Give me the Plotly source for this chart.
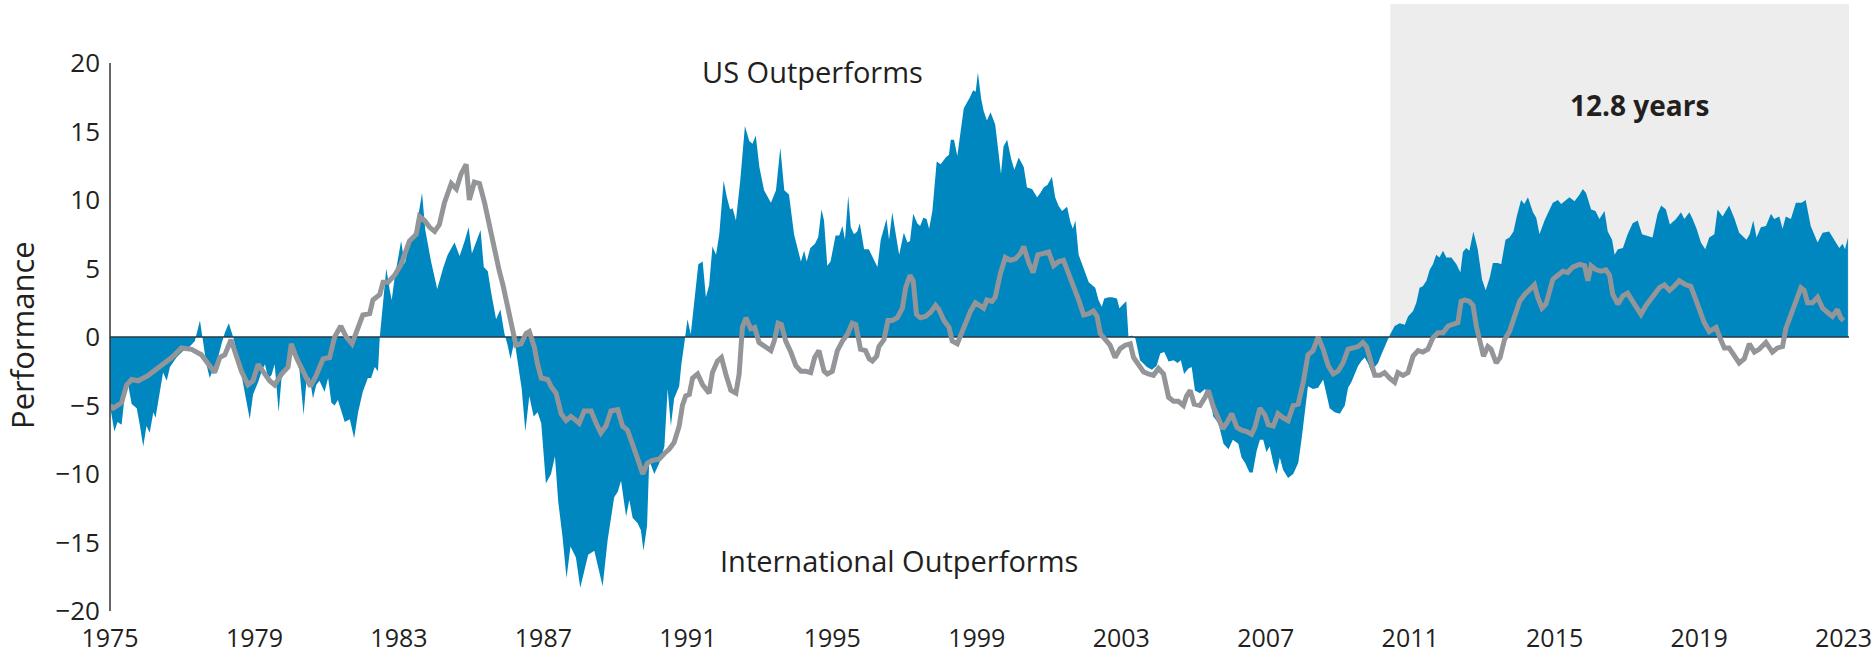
import plotly.graph_objects as go

# ---- data ----
blue_years = [
    1975.0, 1975.12, 1975.21, 1975.32, 1975.4, 1975.49, 1975.6, 1975.74, 1975.83, 1975.92,
    1976.01, 1976.1, 1976.2, 1976.26, 1976.38, 1976.47, 1976.57, 1976.66, 1976.84, 1977.03,
    1977.21, 1977.35, 1977.49, 1977.58, 1977.67, 1977.76, 1977.86, 1977.99, 1978.09, 1978.18,
    1978.29, 1978.41, 1978.55, 1978.69, 1978.78, 1978.87, 1978.96, 1979.1, 1979.2, 1979.29,
    1979.38, 1979.47, 1979.56, 1979.67, 1979.75, 1979.88, 1979.98, 1980.07, 1980.16, 1980.25,
    1980.36, 1980.44, 1980.53, 1980.62, 1980.71, 1980.8, 1980.94, 1981.04, 1981.13, 1981.22,
    1981.31, 1981.41, 1981.5, 1981.64, 1981.76, 1981.87, 1982.0, 1982.14, 1982.23, 1982.33,
    1982.42, 1982.47, 1982.53, 1982.65, 1982.74, 1982.8,
    1982.88, 1983.06, 1983.16, 1983.29, 1983.43, 1983.54, 1983.64, 1983.73, 1983.89, 1984.06,
    1984.22, 1984.35, 1984.54, 1984.68, 1984.82, 1984.93, 1985.02, 1985.14, 1985.26, 1985.35,
    1985.46, 1985.55, 1985.69, 1985.81, 1985.92, 1986.01, 1986.09, 1986.2, 1986.31, 1986.4,
    1986.5, 1986.61, 1986.73, 1986.84, 1986.94, 1987.07, 1987.21, 1987.32, 1987.41, 1987.53,
    1987.64, 1987.75, 1987.9, 1988.02, 1988.13, 1988.24, 1988.41, 1988.52, 1988.64, 1988.78,
    1988.96, 1989.06, 1989.15, 1989.29, 1989.38, 1989.47, 1989.61, 1989.7, 1989.77, 1989.87,
    1989.93, 1990.07, 1990.21, 1990.35, 1990.44, 1990.53, 1990.62, 1990.76, 1990.82,
    1990.9, 1990.99, 1991.08, 1991.18, 1991.29, 1991.41, 1991.5, 1991.59, 1991.68, 1991.78,
    1991.87, 1991.99, 1992.08, 1992.17, 1992.24, 1992.33, 1992.45, 1992.58, 1992.7, 1992.79,
    1992.88, 1992.98, 1993.11, 1993.3, 1993.44, 1993.56, 1993.67, 1993.8, 1993.94, 1994.13,
    1994.22, 1994.29, 1994.39, 1994.52, 1994.61, 1994.7, 1994.77, 1994.86, 1994.95, 1995.09,
    1995.19, 1995.28, 1995.35, 1995.44, 1995.51, 1995.6, 1995.69, 1995.76, 1995.88, 1996.01,
    1996.11, 1996.25, 1996.34, 1996.43, 1996.5, 1996.57, 1996.66, 1996.75, 1996.85, 1996.98,
    1997.08, 1997.15, 1997.24, 1997.35, 1997.43, 1997.52, 1997.61, 1997.68, 1997.77, 1997.89,
    1998.0, 1998.14, 1998.23, 1998.28, 1998.37, 1998.46, 1998.55, 1998.64, 1998.81, 1998.9,
    1998.97, 1999.03,
    1999.12, 1999.19, 1999.28, 1999.38, 1999.51, 1999.61, 1999.67, 1999.74, 1999.84, 1999.95,
    2000.04, 2000.16, 2000.3, 2000.39, 2000.53, 2000.67, 2000.76, 2000.85, 2000.96, 2001.08,
    2001.17, 2001.26, 2001.36, 2001.5, 2001.59, 2001.66, 2001.73, 2001.82, 2001.96, 2002.1,
    2002.28, 2002.37, 2002.46, 2002.53, 2002.65, 2002.74, 2002.88, 2002.95, 2003.06, 2003.14,
    2003.2, 2003.29, 2003.39, 2003.52, 2003.71, 2003.85, 2003.98, 2004.08, 2004.19, 2004.31,
    2004.45, 2004.56, 2004.65, 2004.74, 2004.86, 2004.95, 2005.04, 2005.18, 2005.32, 2005.46,
    2005.55, 2005.69, 2005.83, 2005.97, 2006.09, 2006.24, 2006.33, 2006.43, 2006.55, 2006.64,
    2006.75, 2006.84,
    2006.93, 2007.02, 2007.11, 2007.21, 2007.3, 2007.39, 2007.48, 2007.62, 2007.76, 2007.9,
    2007.99, 2008.08, 2008.17, 2008.31, 2008.45, 2008.59, 2008.68, 2008.77, 2008.91, 2009.05,
    2009.19, 2009.28, 2009.37, 2009.47, 2009.56, 2009.65, 2009.74, 2009.83, 2009.93, 2010.02,
    2010.11, 2010.2, 2010.29, 2010.43, 2010.57, 2010.71, 2010.85, 2010.94, 2011.08, 2011.17,
    2011.26, 2011.35, 2011.45, 2011.54, 2011.63, 2011.72, 2011.81, 2011.91, 2012.0, 2012.14,
    2012.28, 2012.39, 2012.46, 2012.55, 2012.64, 2012.75, 2012.87, 2012.99, 2013.09, 2013.2,
    2013.29, 2013.43, 2013.52, 2013.64, 2013.75, 2013.86, 2013.95, 2014.07, 2014.16, 2014.26,
    2014.4, 2014.49, 2014.58, 2014.72, 2014.86,
    2014.95, 2015.09, 2015.18, 2015.41, 2015.55, 2015.69, 2015.78, 2015.87, 2016.01, 2016.13,
    2016.24, 2016.38, 2016.47, 2016.59, 2016.66, 2016.75, 2016.89, 2017.02, 2017.16, 2017.3,
    2017.42, 2017.53, 2017.71, 2017.85, 2017.95, 2018.08, 2018.19, 2018.36, 2018.5, 2018.59,
    2018.73, 2018.82, 2018.93, 2019.05, 2019.17, 2019.28, 2019.42, 2019.51, 2019.65, 2019.83,
    2019.97, 2020.11, 2020.31, 2020.4, 2020.5, 2020.59, 2020.71, 2020.85, 2020.99, 2021.08,
    2021.22, 2021.31, 2021.4, 2021.54, 2021.68, 2021.84, 2021.95, 2022.09, 2022.28, 2022.42,
    2022.6, 2022.74, 2022.88, 2022.97, 2023.04, 2023.12,
]
blue_values = [
    -5.0, -6.9, -6.2, -6.4, -4.5, -3.3, -4.9, -5.2, -6.5, -8.0,
    -6.5, -7.0, -5.5, -5.9, -4.0, -2.6, -3.2, -2.2, -1.5, -1.0,
    -0.7, -0.3, 1.2, -0.5, -2.0, -3.0, -2.3, -1.5, -0.5, 0.3,
    1.0, 0.0, -1.5, -3.5, -4.6, -6.0, -4.2, -3.3, -2.5, -2.0,
    -3.0, -2.8, -2.0, -5.5, -3.0, -2.5, -0.8, -0.5, -1.5, -2.5,
    -5.7, -3.2, -3.0, -4.5, -3.5, -3.2, -4.0, -3.0, -4.8, -5.0,
    -4.6, -5.5, -6.2, -6.0, -7.4, -5.5, -4.0, -3.0, -3.0, -2.2,
    -2.5, 0.0, 1.5, 5.0, 3.5, 2.7,
    4.3, 7.0, 5.3, 6.9, 7.5, 8.9, 10.5, 7.8, 5.5, 3.5,
    5.0, 6.0, 6.9, 5.9, 7.0, 8.0, 6.1, 7.0, 7.8, 5.1,
    4.8, 3.3, 1.3, 2.0, 0.25, -0.6, -1.6, -0.25, -2.3, -3.8,
    -6.9, -4.3, -5.8, -5.5, -6.3, -10.7, -10.0, -8.7, -12.0, -14.6,
    -17.6, -15.3, -16.1, -18.3, -17.1, -15.9, -15.6, -16.9, -18.2, -14.8,
    -11.7, -11.3, -10.5, -13.1, -11.9, -13.2, -13.6, -14.1, -15.6, -13.8,
    -9.0, -10.0, -9.2, -8.0, -3.8, -6.5, -4.5, -3.6, -2.0,
    -0.5, 1.3, 0.2, 2.6, 5.3, 5.5, 2.9, 3.8, 6.6, 6.0,
    7.5, 11.4, 10.2, 9.3, 9.4, 8.5, 11.4, 15.4, 14.3, 14.1,
    14.7, 12.4, 10.7, 9.8, 10.7, 13.8, 10.7, 10.4, 7.5, 5.5,
    6.3, 5.5, 6.5, 6.8, 7.3, 9.3, 8.5, 5.2, 5.5, 7.4,
    7.4, 8.1, 7.1, 10.3, 8.0, 7.5, 7.7, 8.3, 6.4, 6.4,
    5.9, 5.1, 7.1, 7.9, 8.6, 7.1, 9.1, 7.6, 6.0, 7.6,
    6.9, 7.0, 9.0, 8.3, 8.1, 8.7, 8.6, 7.9, 9.2, 12.8,
    12.6, 13.1, 13.3, 14.4, 14.4, 13.2, 14.8, 16.7, 17.5, 18.0,
    17.9, 19.3,
    17.4, 16.5, 15.8, 16.4, 15.5, 13.4, 11.9, 13.9, 14.4, 13.0,
    12.2, 13.1, 12.4, 10.9, 10.8, 10.2, 10.5, 10.9, 11.1, 11.7,
    10.2, 9.6, 9.2, 9.5, 8.4, 7.9, 8.5, 6.0, 5.0, 4.0,
    3.6, 2.7, 2.2, 2.8, 2.9, 2.9, 2.8, 2.1, 2.4, 2.6,
    0.0, 0.1, -0.1, -1.7, -2.2, -2.4, -2.1, -1.2, -1.1, -1.8,
    -1.7, -1.9, -1.7, -2.7, -2.3, -2.2, -3.9, -4.1, -3.8, -4.6,
    -5.8, -6.3, -7.8, -8.2, -7.5, -7.8, -8.8, -9.2, -9.9, -9.9,
    -8.3, -7.5,
    -7.5, -8.4, -8.0, -9.2, -10.0, -8.8, -9.7, -10.3, -10.0, -9.2,
    -7.5, -5.3, -3.6, -3.8, -3.7, -3.1, -4.1, -5.2, -5.5, -5.6,
    -5.0, -3.7, -3.3, -2.6, -2.1, -1.75, -1.5, -1.9, -2.6, -2.2,
    -1.9, -1.3, -0.7, 0.1, 0.8, 1.0, 0.9, 1.5, 1.9, 2.5,
    3.6, 3.7, 4.1, 4.9, 5.3, 6.0, 5.8, 6.3, 5.8, 5.8,
    5.3, 4.7, 6.2, 6.5, 6.3, 7.7, 6.4, 4.2, 3.4, 4.3,
    5.4, 5.4, 5.3, 7.1, 7.25, 7.7, 8.8, 10.0, 9.7, 10.2,
    9.1, 8.7, 7.5, 8.5, 9.3,
    9.8, 10.0, 9.7, 10.2, 9.9, 10.4, 10.8, 10.5, 9.3, 9.2,
    8.6, 9.2, 7.7, 7.1, 6.0, 6.4, 6.5, 7.5, 8.3, 8.5,
    7.5, 7.4, 7.25, 9.0, 9.6, 9.3, 8.2, 8.6, 9.1, 8.6,
    9.1, 8.6, 7.9, 6.9, 6.4, 7.25, 7.5, 9.3, 8.8, 9.6,
    8.7, 7.6, 7.1, 7.5, 8.5, 7.25, 8.0, 8.1, 9.0, 8.6,
    8.8, 7.9, 8.8, 8.6, 9.8, 9.8, 10.0, 8.1, 6.9, 7.6,
    7.7, 7.1, 6.5, 6.8, 6.4, 7.25,
]

gray_years = [
    1975.0, 1975.09, 1975.32, 1975.46, 1975.6, 1975.78, 1976.06, 1976.34, 1976.71, 1976.98,
    1977.26, 1977.53, 1977.72, 1977.9, 1978.04, 1978.18, 1978.35, 1978.5, 1978.64, 1978.82,
    1978.96, 1979.1, 1979.27, 1979.42, 1979.56, 1979.75, 1979.93, 1980.02, 1980.16, 1980.3,
    1980.44, 1980.55, 1980.71, 1980.9, 1981.08, 1981.22, 1981.39, 1981.54, 1981.7, 1981.87,
    1982.0, 1982.19, 1982.28, 1982.47, 1982.56, 1982.7,
    1982.88, 1983.06, 1983.29, 1983.48, 1983.57, 1983.71, 1983.85, 1983.99, 1984.12, 1984.26,
    1984.45, 1984.59, 1984.72, 1984.86, 1984.95, 1985.09, 1985.23, 1985.37, 1985.51, 1985.65,
    1985.78, 1985.88, 1986.01, 1986.15, 1986.24, 1986.38, 1986.52, 1986.61, 1986.75, 1986.84,
    1986.94, 1987.12, 1987.21, 1987.35, 1987.49, 1987.63, 1987.76, 1987.86, 1987.99, 1988.13,
    1988.32, 1988.46, 1988.59, 1988.73, 1988.87, 1989.06, 1989.19, 1989.33, 1989.47, 1989.61,
    1989.75, 1989.88, 1990.02, 1990.21, 1990.35, 1990.48, 1990.62, 1990.76, 1990.85,
    1990.94, 1991.04, 1991.13, 1991.27, 1991.41, 1991.59, 1991.68, 1991.82, 1991.93, 1992.05,
    1992.19, 1992.33, 1992.42, 1992.51, 1992.61, 1992.74, 1992.85, 1992.97, 1993.16, 1993.3,
    1993.39, 1993.5, 1993.59, 1993.71, 1993.85, 1993.99, 1994.13, 1994.26, 1994.4, 1994.51,
    1994.63, 1994.77, 1994.86, 1995.0, 1995.14, 1995.28, 1995.42, 1995.55, 1995.65, 1995.78,
    1995.92, 1996.02, 1996.11, 1996.23, 1996.29, 1996.43, 1996.54, 1996.66, 1996.8, 1996.94,
    1997.03, 1997.15, 1997.24, 1997.33, 1997.44, 1997.58, 1997.72, 1997.86, 1997.95, 1998.09,
    1998.23, 1998.32, 1998.46, 1998.57, 1998.69, 1998.83, 1998.96, 1999.1,
    1999.19, 1999.28, 1999.42, 1999.51, 1999.65, 1999.79, 1999.93, 2000.07, 2000.21, 2000.3,
    2000.44, 2000.56, 2000.69, 2000.85, 2000.99, 2001.13, 2001.27, 2001.4, 2001.54, 2001.68,
    2001.82, 2001.96, 2002.1, 2002.23, 2002.33, 2002.42, 2002.56, 2002.69, 2002.83, 2002.97,
    2003.11, 2003.25, 2003.34, 2003.48, 2003.62, 2003.75, 2003.89, 2004.03, 2004.17, 2004.31,
    2004.45, 2004.58, 2004.72, 2004.81, 2004.91, 2005.02, 2005.18, 2005.32, 2005.41, 2005.55,
    2005.69, 2005.81, 2005.94, 2006.06, 2006.2, 2006.33, 2006.47, 2006.61, 2006.7, 2006.84,
    2006.98,
    2007.07, 2007.21, 2007.34, 2007.48, 2007.62, 2007.76, 2007.9, 2008.04, 2008.17, 2008.31,
    2008.45, 2008.59, 2008.73, 2008.87, 2009.0, 2009.14, 2009.28, 2009.42, 2009.56, 2009.69,
    2009.79, 2009.88, 2010.02, 2010.16, 2010.29, 2010.43, 2010.57, 2010.66, 2010.8, 2010.94,
    2011.08, 2011.22, 2011.35, 2011.49, 2011.63, 2011.77, 2011.91, 2012.05, 2012.18, 2012.32,
    2012.41, 2012.51, 2012.64, 2012.74, 2012.83, 2012.92, 2013.03, 2013.15, 2013.24, 2013.38,
    2013.49, 2013.61, 2013.75, 2013.89, 2014.03, 2014.17, 2014.3, 2014.44, 2014.53, 2014.65,
    2014.76, 2014.86, 2014.95, 2015.09,
    2015.23, 2015.36, 2015.5, 2015.69, 2015.83, 2015.92, 2016.01, 2016.15, 2016.29, 2016.42,
    2016.52, 2016.61, 2016.75, 2016.89, 2017.02, 2017.16, 2017.3, 2017.39, 2017.53, 2017.71,
    2017.9, 2018.04, 2018.18, 2018.31, 2018.45, 2018.64, 2018.77, 2018.87, 2019.01, 2019.14,
    2019.28, 2019.47, 2019.6, 2019.7, 2019.83, 2019.97, 2020.11, 2020.25, 2020.39, 2020.53,
    2020.66, 2020.85, 2021.03, 2021.17, 2021.31, 2021.4, 2021.54, 2021.68, 2021.82, 2021.91,
    2022.0, 2022.14, 2022.28, 2022.42, 2022.55, 2022.69, 2022.83, 2022.92, 2023.0,
]
gray_values = [
    -5.0, -5.2, -4.8, -3.5, -3.1, -3.2, -2.8, -2.2, -1.5, -0.8,
    -0.9, -1.3, -2.0, -2.6, -1.5, -1.3, -0.2, -1.5, -2.5, -3.5,
    -3.2, -2.0, -2.6, -3.2, -3.5, -2.7, -2.2, -0.5, -1.5, -2.3,
    -3.1, -3.6, -2.8, -1.6, -1.5, 0.0, 0.8, 0.0, -0.5, 0.6,
    1.6, 1.7, 2.7, 3.1, 4.0, 4.0,
    4.5, 5.3, 7.0, 7.5, 8.8, 8.5, 8.0, 7.7, 8.2, 9.8,
    11.2, 10.8, 11.9, 12.6, 10.0, 11.3, 11.2, 9.8, 8.0, 6.3,
    4.8, 3.8, 2.1, 0.5, -0.6, -0.5, 0.25, 0.4, -0.75, -2.0,
    -3.0, -3.1, -3.6, -4.1, -5.6, -6.1, -5.8, -6.0, -6.3, -5.4,
    -5.4, -6.3, -7.0, -6.5, -5.4, -5.3, -6.5, -6.8, -8.0, -8.9,
    -10.0, -9.2, -9.0, -8.9, -8.5, -8.2, -7.7, -6.5, -5.0,
    -4.3, -4.2, -3.0, -2.7, -3.5, -4.1, -2.6, -1.75, -1.5, -2.7,
    -3.9, -4.1, -2.7, 0.7, 1.4, 0.6, 0.7, -0.4, -0.7, -1.0,
    -0.3, 1.0, 0.9, -0.3, -1.1, -2.1, -2.5, -2.5, -2.6, -1.5,
    -1.0, -2.5, -2.7, -2.5, -1.0, -0.3, 0.2, 1.0, 0.9, -0.9,
    -1.0, -1.6, -1.75, -1.4, -0.7, -0.2, 1.2, 1.2, 1.4, 2.1,
    3.6, 4.5, 4.1, 1.65, 1.4, 1.5, 1.8, 2.3, 2.0, 1.2,
    0.7, -0.3, -0.5, 0.2, 1.2, 1.9, 2.5, 2.3,
    2.1, 2.7, 2.6, 2.9, 4.6, 5.8, 5.6, 5.7, 6.1, 6.6,
    5.4, 4.7, 6.0, 6.1, 6.2, 5.2, 5.5, 5.6, 4.7, 3.8,
    2.7, 1.6, 1.7, 1.9, 1.5, 0.25, -0.25, -0.6, -1.5, -0.85,
    -0.6, -0.5, -1.5, -2.1, -2.55, -2.7, -2.8, -2.3, -2.7, -4.4,
    -4.7, -4.7, -5.0, -4.3, -3.9, -4.9, -5.0, -4.4, -3.9, -5.1,
    -6.1, -6.7, -6.2, -5.6, -6.6, -6.8, -6.9, -7.1, -6.6, -5.2,
    -5.7,
    -6.4, -6.5, -5.6, -5.9, -6.1, -5.0, -4.9, -3.3, -1.3, -1.0,
    0.0, -0.9, -2.1, -2.7, -2.5, -1.9, -0.9, -0.8, -0.7, -0.4,
    -0.7, -1.5, -2.8, -2.8, -2.6, -3.0, -3.3, -2.6, -2.8, -2.6,
    -1.4, -1.0, -1.1, -0.9, -0.05, 0.3, 0.3, 0.8, 0.9, 1.05,
    2.6, 2.7, 2.6, 2.3, 0.8, -0.2, -1.4, -0.7, -0.9, -1.9,
    -1.5, -0.2, 0.4, 1.5, 2.6, 3.1, 3.4, 3.8, 2.9, 2.1,
    2.4, 3.5, 4.2, 4.5,
    4.8, 4.7, 5.1, 5.3, 5.2, 4.1, 5.2, 4.9, 4.8, 4.9,
    4.5, 3.1, 2.4, 3.0, 3.2, 2.6, 2.0, 1.65, 2.3, 2.9,
    3.6, 3.8, 3.4, 3.7, 4.1, 3.8, 3.7, 3.0, 2.0, 1.05,
    0.4, 0.7, -0.2, -0.8, -0.8, -1.4, -1.9, -1.6, -0.5, -1.1,
    -0.9, -0.4, -1.1, -0.8, -0.7, 0.6, 1.5, 2.6, 3.6, 3.4,
    2.5, 2.5, 2.9, 2.1, 1.8, 1.5, 2.0, 1.4, 1.2,
]

tick_years = [1975, 1979, 1983, 1987, 1991, 1995, 1999, 2003, 2007, 2011, 2015, 2019, 2023]
y_ticks = [-20, -15, -10, -5, 0, 5, 10, 15, 20]
highlight_start, highlight_end = 2010.45, 2023.15
highlight_label = "12.8 years"

FONT = "Open Sans"
TXT = "#231f20"
BLUE = "#0087bf"
GRAY = "#939598"

fig = go.Figure()

fig.add_trace(go.Scatter(
    x=blue_years, y=blue_values, mode="lines", fill="tozeroy",
    fillcolor=BLUE, line=dict(color=BLUE, width=0), hoverinfo="skip", showlegend=False,
))
fig.add_trace(go.Scatter(
    x=[blue_years[0], highlight_end], y=[0, 0], mode="lines",
    line=dict(color="#243a48", width=1.5), hoverinfo="skip", showlegend=False,
))
fig.add_trace(go.Scatter(
    x=gray_years, y=gray_values, mode="lines",
    line=dict(color=GRAY, width=5), hoverinfo="skip", showlegend=False,
))

# shaded highlight period
fig.add_shape(type="rect", xref="x", yref="y", x0=highlight_start, x1=highlight_end,
              y0=0, y1=24.3, fillcolor="#ededed", line=dict(width=0), layer="below")
# y axis line from -20 to 20
fig.add_shape(type="line", xref="paper", yref="y", x0=0, x1=0, y0=y_ticks[0], y1=y_ticks[-1],
              line=dict(color="#333333", width=1.5), layer="above")

fig.add_annotation(x=1994.46, y=19.35, xref="x", yref="y", text="US Outperforms",
                   showarrow=False, xanchor="center", font=dict(family=FONT, size=29, color=TXT))
fig.add_annotation(x=1996.84, y=-16.3, xref="x", yref="y", text="International Outperforms",
                   showarrow=False, xanchor="center", font=dict(family=FONT, size=29, color=TXT))
fig.add_annotation(x=2017.36, y=16.9, xref="x", yref="y", text="<b>" + highlight_label + "</b>",
                   showarrow=False, xanchor="center", font=dict(family=FONT, size=28, color=TXT))
fig.add_annotation(x=0, y=0, xref="paper", yref="y", text="Performance", textangle=-90,
                   xanchor="center", yanchor="middle", xshift=-88, yshift=2, showarrow=False,
                   font=dict(family=FONT, size=31, color=TXT))

fig.update_layout(
    width=1875, height=657, autosize=False,
    margin=dict(l=110, r=26, t=4, b=46, autoexpand=False),
    paper_bgcolor="white", plot_bgcolor="white",
    font=dict(family=FONT, color=TXT),
    showlegend=False,
)
fig.update_xaxes(
    range=[1975, highlight_end], showgrid=False, zeroline=False, showline=False,
    automargin=False,
    tickvals=tick_years, ticktext=[str(t) for t in tick_years], ticks="",
    tickfont=dict(family=FONT, size=25, color=TXT), ticklabelstandoff=10,
)
fig.update_yaxes(
    range=[-20, 24.3], showgrid=False, zeroline=False, showline=False,
    automargin=False,
    tickvals=y_ticks, ticks="",
    tickfont=dict(family=FONT, size=26, color=TXT), ticklabelstandoff=9,
)

fig.write_html("out.html", include_plotlyjs=True, config={"displayModeBar": False},
               post_script="document.body.style.margin='0';document.body.style.overflow='hidden';")
